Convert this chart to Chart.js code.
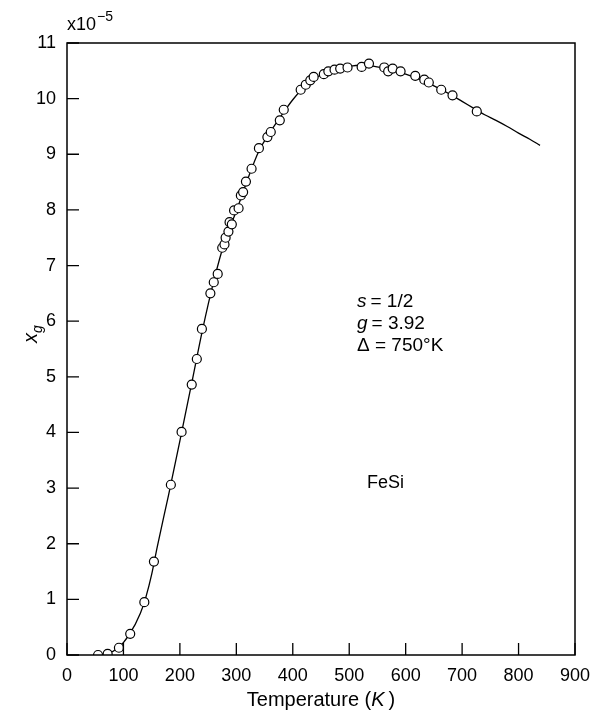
<!DOCTYPE html>
<html>
<head>
<meta charset="utf-8">
<title>FeSi susceptibility</title>
<script src="https://cdn.jsdelivr.net/npm/chart.js@4"></script>
<style>
  html, body { margin: 0; padding: 0; background: #fff; }
  #wrap { width: 593px; height: 713px; }
</style>
</head>
<body>
<div id="wrap"><canvas id="chi"></canvas></div>
<script>
// measured points (temperature in K, chi_g in units of 1e-5)
var tempK = [55, 72, 92, 112, 137, 154, 184, 203, 221, 230, 239, 254, 260, 267,
  275, 279, 281, 286, 288, 292, 296, 304, 308, 312, 317, 327, 340, 355, 361,
  377, 384, 414, 423, 431, 437, 455, 463, 474, 484, 497, 522, 535, 562, 569,
  577, 591, 617, 633, 641, 663, 683, 726];
var chiG = [0.0, 0.02, 0.13, 0.38, 0.95, 1.68, 3.06, 4.01, 4.86, 5.32, 5.86, 6.50, 6.70, 6.85,
  7.32, 7.38, 7.50, 7.61, 7.78, 7.74, 7.99, 8.03, 8.26, 8.32, 8.51, 8.74, 9.11, 9.31, 9.40,
  9.61, 9.80, 10.16, 10.25, 10.33, 10.39, 10.44, 10.49, 10.52, 10.54, 10.56, 10.57, 10.63, 10.56, 10.49,
  10.54, 10.49, 10.41, 10.34, 10.29, 10.16, 10.06, 9.77];

// fitted curve
var fitTemp = [50, 70, 90, 110, 130, 140, 150, 160, 180, 200, 220, 240, 260, 280, 300,
  320, 340, 360, 380, 400, 420, 440, 460, 480, 500, 520, 540, 560, 580, 600, 620,
  640, 660, 680, 700, 720, 740, 760, 780, 800, 820, 838];
var fitChi = [0.0, 0.02, 0.12, 0.36, 0.75, 1.05, 1.45, 1.95, 2.88, 3.85, 4.84, 5.84, 6.72, 7.45, 7.98,
  8.55, 9.06, 9.40, 9.70, 9.98, 10.21, 10.37, 10.47, 10.54, 10.58, 10.60, 10.59, 10.55, 10.50, 10.44, 10.37,
  10.28, 10.18, 10.07, 9.95, 9.83, 9.71, 9.61, 9.50, 9.38, 9.27, 9.16];

var xTicks = [0, 100, 200, 300, 400, 500, 600, 700, 800, 900];
var yTicks = [0, 1, 2, 3, 4, 5, 6, 7, 8, 9, 10, 11];

var FONT = '"Liberation Sans", Arial, sans-serif';

function pts(xs, ys) {
  return xs.map(function (x, i) { return { x: x, y: ys[i] }; });
}

// box, inward ticks and the free text of the figure
var decor = {
  id: 'decor',
  afterDraw: function (chart) {
    var c = chart.ctx, a = chart.chartArea;
    var sx = chart.scales.x, sy = chart.scales.y;
    c.save();
    c.strokeStyle = '#000';
    c.lineWidth = 1.5;
    c.strokeRect(a.left, a.top, a.right - a.left, a.bottom - a.top);
    c.lineWidth = 1.3;
    c.beginPath();
    xTicks.forEach(function (v) {
      var px = sx.getPixelForValue(v);
      c.moveTo(px, a.bottom);
      c.lineTo(px, a.bottom - 12);
    });
    yTicks.forEach(function (v) {
      var py = sy.getPixelForValue(v);
      c.moveTo(a.left, py);
      c.lineTo(a.left + 12, py);
    });
    c.stroke();

    c.fillStyle = '#000';
    c.textBaseline = 'alphabetic';
    c.textAlign = 'left';

    // exponent
    c.font = '18px ' + FONT;
    c.fillText('x10', a.left, 30);
    var w = c.measureText('x10').width;
    c.font = '14px ' + FONT;
    c.fillText('\u22125', a.left + w + 1, 21);

    // x title with italic K
    var fs = 'px ' + FONT, sz = 20;
    c.font = 'italic ' + sz + fs;
    var wk = c.measureText('K').width;
    c.font = sz + fs;
    var t1 = 'Temperature (', t3 = ')';
    var w1 = c.measureText(t1).width, w3 = c.measureText(t3).width;
    var tot = w1 + wk + 4 + w3;
    var x0 = (a.left + a.right) / 2 - tot / 2;
    c.fillText(t1, x0, 706);
    c.font = 'italic ' + sz + fs;
    c.fillText('K', x0 + w1, 706);
    c.font = sz + fs;
    c.fillText(t3, x0 + w1 + wk + 4, 706);

    // y title x_g
    c.save();
    c.translate(37, 343);
    c.rotate(-Math.PI / 2);
    c.font = 'italic 20px ' + FONT;
    c.fillText('x', 0, 0);
    var wx = c.measureText('x').width;
    c.font = 'italic 14px ' + FONT;
    c.fillText('g', wx, 5);
    c.restore();

    // parameters
    var lx = 357;
    function eq(sym, rest, y) {
      c.font = 'italic 19px ' + FONT;
      c.fillText(sym, lx, y);
      var ws = c.measureText(sym).width;
      c.font = '19px ' + FONT;
      c.fillText(rest, lx + ws + 4, y);
    }
    eq('s', '= 1/2', 307);
    eq('g', '= 3.92', 329);
    c.font = '19px ' + FONT;
    c.fillText('\u0394 = 750\u00b0K', lx, 351);

    c.font = '18px ' + FONT;
    c.fillText('FeSi', 367, 488);
    c.restore();
  }
};

new Chart(document.getElementById('chi'), {
  type: 'scatter',
  data: {
    datasets: [{
      label: 'measured',
      data: pts(tempK, chiG),
      pointRadius: 4.5,
      pointBackgroundColor: '#fff',
      pointBorderColor: '#000',
      pointBorderWidth: 1.2,
      showLine: false
    }, {
      label: 'fit',
      data: pts(fitTemp, fitChi),
      showLine: true,
      pointRadius: 0,
      borderColor: '#000',
      borderWidth: 1.3,
      cubicInterpolationMode: 'monotone'
    }]
  },
  options: {
    responsive: true,
    maintainAspectRatio: false,
    animation: false,
    layout: { padding: { left: 0, right: 18, top: 43, bottom: 0 } },
    plugins: { legend: { display: false }, tooltip: { enabled: false } },
    scales: {
      x: {
        type: 'linear', min: 0, max: 900,
        grid: { display: false },
        border: { display: false },
        afterFit: function (s) { s.height = 58; s.paddingLeft = 0; s.paddingRight = 0; },
        ticks: { stepSize: 100, padding: 2, color: '#000', font: { family: FONT, size: 18 } }
      },
      y: {
        min: 0, max: 11,
        grid: { display: false },
        border: { display: false },
        afterFit: function (s) { s.width = 67; s.paddingTop = 0; s.paddingBottom = 0; },
        ticks: { stepSize: 1, padding: 3, color: '#000', font: { family: FONT, size: 18 } }
      }
    }
  },
  plugins: [decor]
});
</script>
</body>
</html>
